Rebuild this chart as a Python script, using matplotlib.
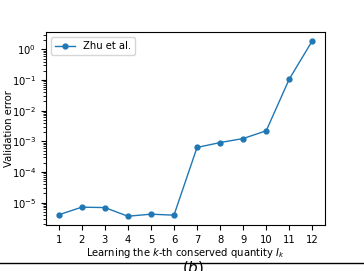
import matplotlib
matplotlib.use('Agg')
import matplotlib.pyplot as plt
from matplotlib.lines import Line2D

k = [1, 2, 3, 4, 5, 6, 7, 8, 9, 10, 11, 12]
val_error = [4.0e-6, 7.1e-6, 6.9e-6, 3.6e-6, 4.2e-6, 3.9e-6,
             6.3e-4, 9.1e-4, 1.23e-3, 2.2e-3, 0.107, 1.9]

plt.rcParams['font.size'] = 7.2

fig = plt.figure(figsize=(3.64, 2.71), dpi=100)
ax = fig.add_axes([46/364, 1 - 225/271, 279/364, 193/271])
ax.plot(k, val_error, marker='o', markersize=3.5, linewidth=1, color='#1f77b4', label='Zhu et al.')
ax.set_yscale('log')
ax.set_xticks(k)
ax.set_xlabel('Learning the $k$-th conserved quantity $I_k$', labelpad=1)
ax.set_ylabel('Validation error')
ax.yaxis.set_label_coords(-0.115, 0.5)
ax.legend(loc='upper left')

fig.add_artist(Line2D([0, 1], [1 - 263/271, 1 - 263/271], color='black', linewidth=1))
fig.text(193/364, 1 - 259/271, '$(b)$', ha='center', va='top', fontsize=11)

fig.savefig('out.png', dpi=100)
